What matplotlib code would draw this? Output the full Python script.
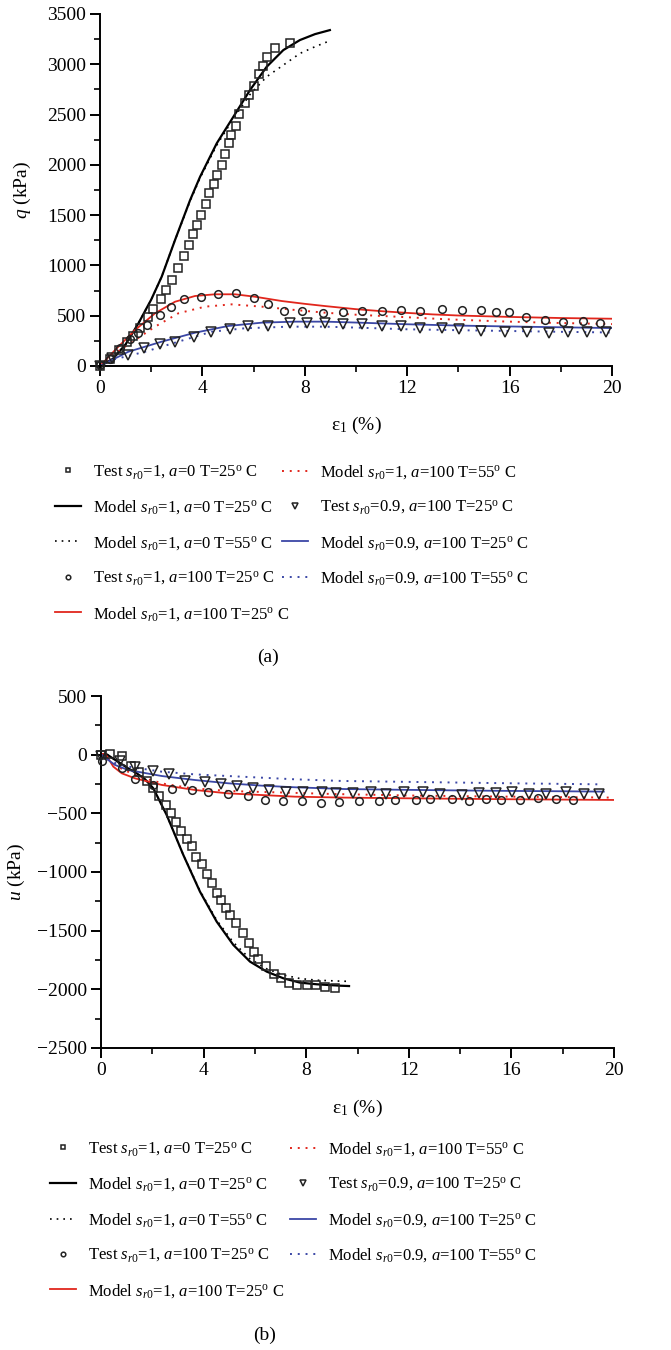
import matplotlib
matplotlib.use('Agg')
import matplotlib.pyplot as plt
import matplotlib.ticker as ticker

plt.rcParams['font.family'] = 'serif'
plt.rcParams['font.serif'] = ['Liberation Serif', 'DejaVu Serif']
plt.rcParams['mathtext.fontset'] = 'custom'
plt.rcParams['mathtext.rm'] = 'Liberation Serif'
plt.rcParams['mathtext.it'] = 'Liberation Serif:italic'

RED = '#e1261c'
BLUE = '#3b47a6'

# ---------------- (a) q vs eps1 ----------------
qa_sq_x = [0, 0.39, 0.75, 1.05, 1.3, 1.55, 1.89, 2.08, 2.37, 2.57, 2.8, 3.03, 3.27, 3.46, 3.63, 3.78, 3.93, 4.13,
           4.27, 4.45, 4.58, 4.75, 4.9, 5.03, 5.13, 5.3, 5.43, 5.65, 5.83, 6.02, 6.2, 6.36, 6.54, 6.85, 7.42]
qa_sq_y = [0, 66, 160, 240, 300, 380, 484, 563, 663, 755, 855, 971, 1093, 1203, 1309, 1402, 1501, 1610,
           1716, 1809, 1902, 1998, 2104, 2214, 2296, 2389, 2502, 2611, 2694, 2786, 2903, 2982, 3069, 3164, 3208]

qa_m1_x = [0, 0.5, 1.0, 1.5, 2.0, 2.41, 2.93, 3.52, 3.91, 4.56, 5.21, 5.86, 6.51, 7.16, 7.81, 8.4, 8.98]
qa_m1_y = [0, 70, 215, 424, 660, 888, 1252, 1650, 1882, 2214, 2478, 2744, 2975, 3141, 3241, 3300, 3340]

qa_m1h_x = [0, 0.5, 1.0, 1.5, 2.0, 2.41, 2.93, 3.52, 3.91, 4.56, 5.21, 5.86, 6.51, 7.16, 7.81, 8.4, 8.98]
qa_m1h_y = [0, 70, 215, 424, 660, 888, 1252, 1640, 1870, 2195, 2460, 2700, 2876, 2992, 3108, 3175, 3234]

qa_ci_x = [0, 0.39, 0.78, 1.17, 1.5, 1.82, 2.34, 2.77, 3.29, 3.95, 4.6, 5.31, 6.0, 6.55, 7.2, 7.88, 8.7,
           9.5, 10.25, 11.0, 11.77, 12.5, 13.35, 14.14, 14.87, 15.47, 15.98, 16.66, 17.38, 18.1, 18.85, 19.53]
qa_ci_y = [10, 66, 176, 265, 325, 408, 507, 590, 663, 689, 713, 723, 673, 613, 550, 547, 524,
           533, 545, 545, 561, 545, 565, 561, 561, 535, 532, 488, 455, 438, 445, 432]

qa_m2_x = [0, 0.59, 1.37, 2.15, 2.93, 3.71, 4.49, 5.27, 6.05, 7.1, 8.0, 8.79, 10, 11, 12, 13, 14, 16, 18, 20]
qa_m2_y = [0, 159, 358, 524, 639, 696, 713, 713, 689, 646, 618, 596, 565, 545, 528, 513, 502, 488, 477, 470]

qa_m2h_x = [0, 0.59, 1.37, 2.15, 3.06, 4.1, 5.14, 6.32, 7.62, 8.79, 10, 11.6, 13.5, 15.5, 17.5, 20]
qa_m2h_y = [0, 126, 258, 391, 524, 590, 613, 590, 557, 530, 510, 490, 465, 445, 430, 417]

qa_tr_x = [0, 0.46, 1.11, 1.73, 2.36, 2.93, 3.66, 4.34, 5.07, 5.77, 6.55, 7.42, 8.1, 8.79,
           9.5, 10.25, 11.0, 11.77, 12.5, 13.35, 14.04, 14.87, 15.83, 16.69, 17.55, 18.3, 19.04, 19.76]
qa_tr_y = [0, 76, 109, 176, 219, 242, 291, 335, 365, 398, 398, 424, 431, 431,
           417, 417, 400, 400, 374, 374, 364, 351, 341, 335, 331, 335, 335, 341]

qa_m3_x = [0, 1.11, 2.41, 3.71, 5.01, 6.32, 7.62, 8.79, 10, 12, 14, 16, 18, 20]
qa_m3_y = [0, 142, 242, 331, 398, 431, 441, 441, 432, 415, 402, 393, 385, 377]

qa_m3h_x = [0, 0.46, 1.76, 3.06, 4.36, 5.66, 7.36, 8.79, 10, 12, 14, 16, 18, 20]
qa_m3h_y = [0, 60, 142, 242, 341, 375, 391, 391, 382, 365, 356, 348, 340, 333]

# ---------------- (b) u vs eps1 ----------------
ub_sq_x = [0, 0.35, 0.81, 1.16, 1.49, 1.78, 2.01, 2.26, 2.54, 2.73, 2.93, 3.12, 3.36, 3.54, 3.71, 3.92, 4.13, 4.33,
           4.51, 4.68, 4.86, 5.03, 5.25, 5.53, 5.76, 5.95, 6.14, 6.44, 6.76, 7.02, 7.32, 7.65, 8.04, 8.39, 8.75, 9.11]
ub_sq_y = [0, 5, -11, -94, -151, -222, -287, -349, -425, -499, -576, -652, -717, -780, -868, -936, -1015, -1094,
           -1180, -1236, -1307, -1369, -1435, -1520, -1605, -1678, -1744, -1803, -1871, -1902, -1945, -1959, -1965,
           -1965, -1979, -1985]

ub_m1_x = [0, 0.22, 1.06, 1.4, 1.72, 2.04, 2.56, 3.21, 3.86, 4.51, 5.16, 5.81, 6.46, 7.11, 7.76, 8.41, 9.32, 9.67]
ub_m1_y = [0, 3, -117, -160, -210, -287, -514, -855, -1168, -1423, -1622, -1764, -1849, -1906, -1943, -1957, -1969, -1972]

ub_m1h_x = [0, 0.22, 1.06, 1.4, 1.72, 2.04, 2.56, 3.21, 3.86, 4.51, 5.16, 5.81, 6.46, 7.11, 7.76, 8.41, 9.32, 9.67]
ub_m1h_y = [0, 3, -117, -160, -210, -287, -514, -855, -1160, -1410, -1600, -1740, -1825, -1878, -1908, -1922, -1930, -1932]

ub_ci_x = [0.05, 0.81, 1.33, 2.04, 2.76, 3.54, 4.18, 4.96, 5.72, 6.39, 7.11, 7.85, 8.56, 9.29,
           10.07, 10.84, 11.47, 12.27, 12.83, 13.69, 14.35, 15.0, 15.59, 16.32, 17.02, 17.72, 18.42]
ub_ci_y = [-55, -111, -210, -258, -296, -301, -315, -338, -349, -386, -392, -392, -415, -401,
           -393, -393, -384, -390, -378, -378, -393, -375, -384, -384, -367, -378, -390]

ub_m2_x = [0, 0.03, 0.16, 0.28, 0.48, 0.81, 1.33, 2.37, 3.66, 4.96, 6.26, 7.56, 9.51, 12, 14, 16, 18, 20]
ub_m2_y = [0, 3, 11, -31, -102, -159, -202, -258, -301, -330, -344, -358, -366, -372, -376, -380, -383, -386]

ub_m2h_x = [0, 0.4, 0.8, 1.5, 2.5, 3.5, 5, 7, 9, 12, 15, 18, 20]
ub_m2h_y = [0, -60, -120, -190, -250, -285, -310, -322, -335, -348, -356, -362, -366]

ub_tr_x = [0, 0.74, 1.33, 2.04, 2.65, 3.27, 4.05, 4.68, 5.31, 5.94, 6.55, 7.2, 7.89, 8.63, 9.15,
           9.84, 10.52, 11.1, 11.8, 12.54, 13.23, 14.07, 14.75, 15.4, 16.03, 16.68, 17.35, 18.11, 18.82, 19.42]
ub_tr_y = [-8, -54, -102, -139, -168, -224, -230, -253, -267, -281, -301, -315, -321, -321, -324,
           -327, -321, -335, -321, -321, -335, -344, -330, -330, -321, -335, -335, -321, -335, -335]

ub_m3_x = [0, 0.28, 0.55, 1.06, 2.37, 3.66, 4.96, 6.26, 7.56, 9.51, 12, 14, 16, 18, 19.6]
ub_m3_y = [0, -45, -88, -131, -182, -216, -244, -264, -278, -293, -300, -305, -309, -312, -315]

ub_m3h_x = [0, 0.3, 0.6, 1.06, 2.37, 3.66, 4.96, 6.26, 7.56, 9.38, 12, 14, 16, 18, 19.5]
ub_m3h_y = [0, -40, -75, -102, -145, -168, -182, -196, -210, -224, -232, -238, -244, -249, -253]

labels = [
    'Test $s_{r0}$=1, $a$=0 T=25$^{\\mathrm{o}}$ C',
    'Model $s_{r0}$=1, $a$=0 T=25$^{\\mathrm{o}}$ C',
    'Model $s_{r0}$=1, $a$=0 T=55$^{\\mathrm{o}}$ C',
    'Test $s_{r0}$=1, $a$=100 T=25$^{\\mathrm{o}}$ C',
    'Model $s_{r0}$=1, $a$=100 T=25$^{\\mathrm{o}}$ C',
    'Model $s_{r0}$=1, $a$=100 T=55$^{\\mathrm{o}}$ C',
    'Test $s_{r0}$=0.9, $a$=100 T=25$^{\\mathrm{o}}$ C',
    'Model $s_{r0}$=0.9, $a$=100 T=25$^{\\mathrm{o}}$ C',
    'Model $s_{r0}$=0.9, $a$=100 T=55$^{\\mathrm{o}}$ C',
]

W, H = 671, 1350
fig = plt.figure(figsize=(W / 100, H / 100), dpi=100)

DOT = (0, (1, 3))
mk = dict(ls='none', mfc='none', mec='#222222', mew=1.1, clip_on=False, zorder=4)


def draw(ax, d):
    h = []
    h += ax.plot(d[0][0], d[0][1], marker='s', ms=5.2, **mk)
    h += ax.plot(d[1][0], d[1][1], color='black', lw=1.6)
    h += ax.plot(d[2][0], d[2][1], color='black', lw=1.2, ls=DOT)
    h += ax.plot(d[3][0], d[3][1], marker='o', ms=5.5, **mk)
    h += ax.plot(d[4][0], d[4][1], color=RED, lw=1.3)
    h += ax.plot(d[5][0], d[5][1], color=RED, lw=1.4, ls=DOT)
    h += ax.plot(d[6][0], d[6][1], marker='v', ms=6.8, **mk)
    h += ax.plot(d[7][0], d[7][1], color=BLUE, lw=1.3)
    h += ax.plot(d[8][0], d[8][1], color=BLUE, lw=1.4, ls=DOT)
    return h


def style(ax, ylim, ylab, ylab_x):
    for s in ['top', 'right']:
        ax.spines[s].set_visible(False)
    for s in ['left', 'bottom']:
        ax.spines[s].set_linewidth(1.4)
    ax.set_xlim(0, 20)
    ax.set_ylim(*ylim)
    ax.xaxis.set_major_locator(ticker.MultipleLocator(4))
    ax.xaxis.set_minor_locator(ticker.MultipleLocator(2))
    ax.yaxis.set_major_locator(ticker.MultipleLocator(500))
    ax.yaxis.set_minor_locator(ticker.MultipleLocator(250))
    ax.tick_params(which='major', direction='out', length=7, width=1.4, labelsize=14, pad=3)
    ax.tick_params(which='minor', direction='out', length=4, width=1.2)
    ax.yaxis.set_major_formatter(ticker.FuncFormatter(lambda v, p: f'{int(v)}'.replace('-', '\u2212')))
    ax.set_ylabel(ylab, fontsize=14)
    ax.yaxis.set_label_coords(ylab_x, 0.5)
    ax.yaxis.label.set_va('center')
    ax.set_xlabel('\u03b5$_{\\mathit{1}}$ (%)', fontsize=14)
    ax.xaxis.label.set_va('center')


def legends(ax, h, x1, x2, ytop):
    kw = dict(frameon=False, fontsize=12, loc='upper left', borderpad=0, borderaxespad=0,
              handlelength=1.55, handletextpad=0.72, labelspacing=1.06, markerscale=0.6,
              bbox_transform=fig.transFigure)
    l1 = ax.legend(h[:5], labels[:5], bbox_to_anchor=(x1 / W, 1 - ytop / H), **kw)
    ax.add_artist(l1)
    ax.legend(h[5:], labels[5:], bbox_to_anchor=(x2 / W, 1 - ytop / H), **kw)


# (a)
ax1 = fig.add_axes([100 / W, 1 - 366 / H, 512 / W, 352 / H])
h1 = draw(ax1, [(qa_sq_x, qa_sq_y), (qa_m1_x, qa_m1_y), (qa_m1h_x, qa_m1h_y), (qa_ci_x, qa_ci_y),
                (qa_m2_x, qa_m2_y), (qa_m2h_x, qa_m2h_y), (qa_tr_x, qa_tr_y), (qa_m3_x, qa_m3_y),
                (qa_m3h_x, qa_m3h_y)])
style(ax1, (0, 3500), '$q$ (kPa)', -0.152)
ax1.xaxis.set_label_coords(0.5, -0.168)
legends(ax1, h1, 55, 282, 463)
fig.text(268 / W, 1 - 657 / H, '(a)', ha='center', va='center', fontsize=14)

# (b)
ax2 = fig.add_axes([101 / W, 1 - 1048 / H, 513 / W, 352 / H])
h2 = draw(ax2, [(ub_sq_x, ub_sq_y), (ub_m1_x, ub_m1_y), (ub_m1h_x, ub_m1h_y), (ub_ci_x, ub_ci_y),
                (ub_m2_x, ub_m2_y), (ub_m2h_x, ub_m2h_y), (ub_tr_x, ub_tr_y), (ub_m3_x, ub_m3_y),
                (ub_m3h_x, ub_m3h_y)])
style(ax2, (-2500, 500), '$u$ (kPa)', -0.165)
ax2.xaxis.set_label_coords(0.5, -0.173)
legends(ax2, h2, 50, 290, 1140)
fig.text(265 / W, 1 - 1335 / H, '(b)', ha='center', va='center', fontsize=14)

fig.savefig('out.png', dpi=100)
